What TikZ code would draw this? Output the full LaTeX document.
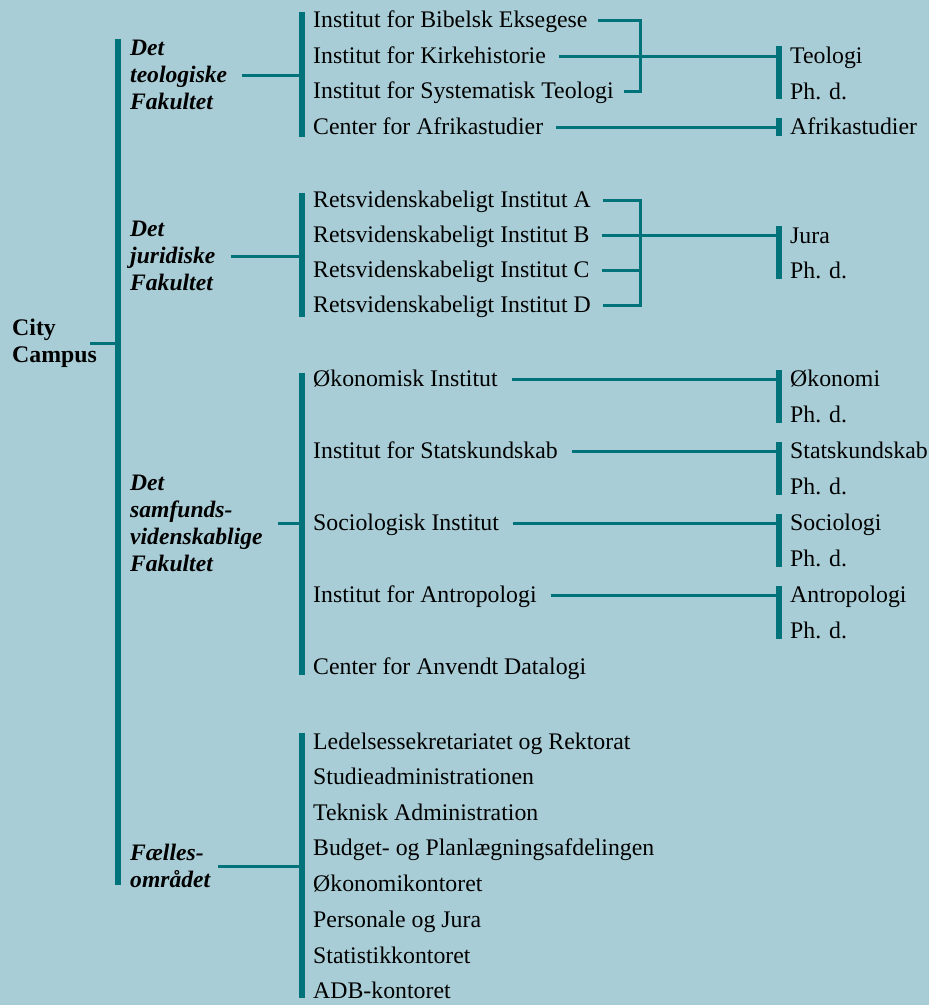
\documentclass[tikz,border=0pt]{standalone}
\usepackage{fontspec}
\setmainfont{Liberation Serif}
\definecolor{bgblue}{HTML}{A9CDD6}
\definecolor{linecol}{HTML}{00737A}
\tikzset{
  bar/.style={line width=5.2pt, linecol},
  link/.style={line width=3pt, linecol},
  unit/.style={anchor=west, inner sep=0pt, text height=15pt, text depth=0pt,
    font=\fontsize{23.8}{27}\selectfont},
  fac/.style={anchor=west, inner sep=0pt, align=left,
    font=\fontsize{23.6}{27}\selectfont\bfseries\itshape},
}
\begin{document}
\begin{tikzpicture}[x=1pt, y=-1pt]
    %background
    \fill[bgblue] (0,0) rectangle (929,1005);
    \useasboundingbox (0,0) rectangle (929,1005);

    %root
    \node[fac, font=\fontsize{23.8}{27}\selectfont\bfseries] (city) at (12,343) {City\\Campus};
    \coordinate (cityend) at (90,343);
    \draw[bar] (118,39) coordinate (main) -- (118,885);
    \draw[link] (cityend) -- (cityend -| main);

    %faculties
    \node[fac] (teo) at (130,75) {Det\\teologiske\\Fakultet};
    \node[fac] (jur) at (130,256) {Det\\juridiske\\Fakultet};
    \node[fac] (sam) at (130,523) {Det\\samfunds-\\videnskablige\\Fakultet};
    \node[fac] (fael) at (130,866) {Fælles-\\området};

    %teologi
    \draw[bar] (302,12) coordinate (teobar) -- (302,137);
    \draw[link] ([xshift=15pt]teo.east) -- (teo.east -| teobar);
    \node[unit] (bib) at (313,20) {Institut for Bibelsk Eksegese};
    \node[unit] (kirke) at (313,56) {Institut for Kirkehistorie};
    \node[unit] (syst) at (313,91) {Institut for Systematisk Teologi};
    \node[unit] (afri) at (313,127) {Center for Afrikastudier};
    \coordinate (teobr) at (640,0);
    \draw[bar] (779,46) coordinate (teolbar) -- (779,99);
    \draw[bar] (779,118) -- (779,136);
    \node[unit] (teol) at (790,56) {Teologi};
    \node[unit] (teolphd) at (790,92) {Ph. d.};
    \node[unit] (afristud) at (790,127) {Afrikastudier};
    \draw[link] ([xshift=10pt]bib.east) -| (teobr |- syst.east) -- ([xshift=10pt]syst.east);
    \draw[link] ([xshift=13pt]kirke.east) -- (kirke.east -| teolbar);
    \draw[link] ([xshift=13pt]afri.east) -- (afri.east -| teolbar);

    %jura
    \draw[bar] (302,193) coordinate (jurbar) -- (302,317);
    \draw[link] ([xshift=15pt]jur.east) -- (jur.east -| jurbar);
    \node[unit] (ja) at (313,200) {Retsvidenskabeligt Institut A};
    \node[unit] (jb) at (313,235) {Retsvidenskabeligt Institut B};
    \node[unit] (jc) at (313,270) {Retsvidenskabeligt Institut C};
    \node[unit] (jd) at (313,305) {Retsvidenskabeligt Institut D};
    \coordinate (jurbr) at (640,0);
    \draw[bar] (779,226) coordinate (jurabar) -- (779,279);
    \node[unit] (jura) at (790,236) {Jura};
    \node[unit] (juraphd) at (790,271) {Ph. d.};
    \draw[link] ([xshift=12pt]ja.east) -| (jurbr |- jd.east) -- ([xshift=12pt]jd.east);
    \draw[link] ([xshift=12pt]jc.east) -- (jc.east -| jurbr);
    \draw[link] ([xshift=12pt]jb.east) -- (jb.east -| jurabar);

    %samfund
    \draw[bar] (302,373) coordinate (sambar) -- (302,675);
    \draw[link] ([xshift=15pt]sam.east) -- (sam.east -| sambar);
    \node[unit] (oek) at (313,379) {Økonomisk Institut};
    \node[unit] (stat) at (313,451) {Institut for Statskundskab};
    \node[unit] (soc) at (313,523) {Sociologisk Institut};
    \node[unit] (antr) at (313,595) {Institut for Antropologi};
    \node[unit] (dat) at (313,667) {Center for Anvendt Datalogi};
    \draw[bar] (779,370) coordinate (samright) -- (779,423);
    \draw[bar] (779,442) -- (779,495);
    \draw[bar] (779,514) -- (779,567);
    \draw[bar] (779,586) -- (779,639);
    \node[unit] (oekon) at (790,379) {Økonomi};
    \node[unit] (oekphd) at (790,415) {Ph. d.};
    \node[unit] (statsk) at (790,451) {Statskundskab};
    \node[unit] (statphd) at (790,487) {Ph. d.};
    \node[unit] (sociol) at (790,523) {Sociologi};
    \node[unit] (socphd) at (790,559) {Ph. d.};
    \node[unit] (antrop) at (790,595) {Antropologi};
    \node[unit] (antrphd) at (790,631) {Ph. d.};
    \draw[link] ([xshift=14pt]oek.east) -- (oek.east -| samright);
    \draw[link] ([xshift=14pt]stat.east) -- (stat.east -| samright);
    \draw[link] ([xshift=14pt]soc.east) -- (soc.east -| samright);
    \draw[link] ([xshift=14pt]antr.east) -- (antr.east -| samright);

    %faelles
    \draw[bar] (302,733) coordinate (faelbar) -- (302,998);
    \draw[link] ([xshift=8pt]fael.east) -- (fael.east -| faelbar);
    \node[unit] (led) at (313,742) {Ledelsessekretariatet og Rektorat};
    \node[unit] (stud) at (313,777) {Studieadministrationen};
    \node[unit] (tek) at (313,813) {Teknisk Administration};
    \node[unit] (budg) at (313,848) {Budget- og Planlægningsafdelingen};
    \node[unit] (oekk) at (313,884) {Økonomikontoret};
    \node[unit] (pers) at (313,920) {Personale og Jura};
    \node[unit] (stk) at (313,956) {Statistikkontoret};
    \node[unit] (adb) at (313,991) {ADB-kontoret};
\end{tikzpicture}
\end{document}
